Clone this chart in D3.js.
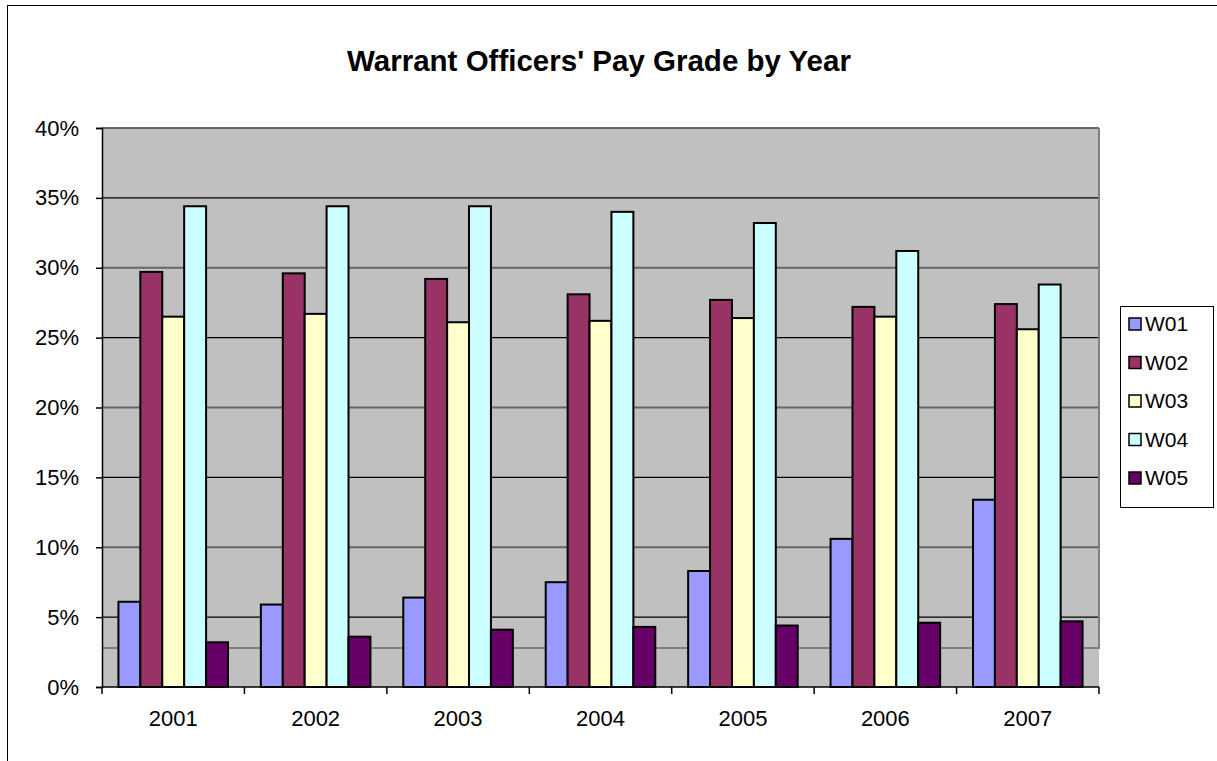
<!DOCTYPE html>
<html>
<head>
<meta charset="utf-8">
<script src="https://cdn.jsdelivr.net/npm/d3@7"></script>
<style>
  body { margin: 0; background: #fff; }
  text { font-family: Arial, "Liberation Sans", sans-serif; }
</style>
</head>
<body>
<svg id="chart" width="1217" height="761"></svg>
<script>
// years along the x axis
var years = ["2001", "2002", "2003", "2004", "2005", "2006", "2007"];
// pay grades (series)
var grades = ["W01", "W02", "W03", "W04", "W05"];
// share of warrant officers per grade, percent
var w01 = [6.1, 5.9, 6.4, 7.5, 8.3, 10.6, 13.4];
var w02 = [29.7, 29.6, 29.2, 28.1, 27.7, 27.2, 27.4];
var w03 = [26.5, 26.7, 26.1, 26.2, 26.4, 26.5, 25.6];
var w04 = [34.4, 34.4, 34.4, 34.0, 33.2, 31.2, 28.8];
var w05 = [3.2, 3.6, 4.1, 4.3, 4.4, 4.6, 4.7];
var yTicks = [0, 5, 10, 15, 20, 25, 30, 35, 40];
var colors = ["#9999FF", "#993366", "#FFFFCC", "#CCFFFF", "#660066"];

var seriesVals = [w01, w02, w03, w04, w05];
var svg = d3.select("#chart");

// outer chart frame (right/bottom edges fall outside the picture)
svg.append("rect")
    .attr("x", 7.5).attr("y", 5.5)
    .attr("width", 1300).attr("height", 900)
    .attr("fill", "#fff")
    .attr("stroke", "#000")
    .attr("stroke-width", 1);

var pLeft = 102, pRight = 1099, pTop = 128, pBottom = 687;

var x = d3.scaleBand().domain(years).range([pLeft, pRight]);
var cat = x.bandwidth();
var barW = cat / 6.5;
var x1 = d3.scaleBand().domain(grades)
    .range([(cat - barW * 5) / 2, (cat + barW * 5) / 2]);
var y = d3.scaleLinear().domain([0, 40]).range([pBottom, pTop]);

// plot area
svg.append("rect")
    .attr("x", pLeft).attr("y", pTop)
    .attr("width", pRight - pLeft).attr("height", pBottom - pTop)
    .attr("fill", "#C0C0C0");

// gridlines
svg.append("g").selectAll("line")
    .data(yTicks.filter(function (d) { return d > 0; }))
    .enter().append("line")
    .attr("x1", pLeft).attr("x2", pRight)
    .attr("y1", function (d) { return y(d); })
    .attr("y2", function (d) { return y(d); })
    .attr("stroke", function (d) { return d % 10 == 0 ? "#666" : "#000"; })
    .attr("stroke-width", function (d) { return d % 10 == 0 ? 2 : 1.2; });

// ghost border of the plot area (as in the original picture)
svg.append("path")
    .attr("d", "M" + pLeft + "," + (pBottom - 39) + "H" + pRight + "V" + pTop)
    .attr("fill", "none")
    .attr("stroke", "#808080")
    .attr("stroke-width", 2);

// bars
var groups = svg.append("g").selectAll("g")
    .data(years)
    .enter().append("g")
    .attr("transform", function (d) { return "translate(" + x(d) + ",0)"; });

groups.selectAll("rect")
    .data(function (d, i) {
        return grades.map(function (g, j) {
            return {grade: g, value: seriesVals[j][i], color: colors[j]};
        });
    })
    .enter().append("rect")
    .attr("x", function (d) { return x1(d.grade); })
    .attr("width", x1.bandwidth())
    .attr("y", function (d) { return y(d.value); })
    .attr("height", function (d) { return pBottom - y(d.value); })
    .attr("fill", function (d) { return d.color; })
    .attr("stroke", "#000")
    .attr("stroke-width", 2);

// y axis
var yAxis = svg.append("g")
    .attr("transform", "translate(" + pLeft + ",0)")
    .call(d3.axisLeft(y).tickValues(yTicks).tickSize(6).tickPadding(17)
        .tickFormat(function (d) { return d + "%"; }));
yAxis.select(".domain").attr("stroke", "#000").attr("stroke-width", 1.5);
yAxis.selectAll(".tick line").attr("stroke", "#000").attr("stroke-width", 1.5);
yAxis.selectAll("text").attr("font-size", 22).attr("fill", "#000")
    .attr("font-family", "Arial, 'Liberation Sans', sans-serif");

// x axis: ticks at category boundaries, labels centred
var xg = svg.append("g");
xg.append("line")
    .attr("x1", pLeft).attr("x2", pRight)
    .attr("y1", pBottom).attr("y2", pBottom)
    .attr("stroke", "#000").attr("stroke-width", 1.5);
xg.selectAll(".xtick")
    .data(years.concat(["end"]))
    .enter().append("line")
    .attr("class", "xtick")
    .attr("x1", function (d, i) { return pLeft + i * cat; })
    .attr("x2", function (d, i) { return pLeft + i * cat; })
    .attr("y1", pBottom).attr("y2", pBottom + 7)
    .attr("stroke", "#000").attr("stroke-width", 1.5);
xg.selectAll(".xlabel")
    .data(years)
    .enter().append("text")
    .attr("class", "xlabel")
    .attr("x", function (d) { return x(d) + cat / 2; })
    .attr("y", 726)
    .attr("text-anchor", "middle")
    .attr("font-size", 22)
    .text(function (d) { return d; });

// title
svg.append("text")
    .attr("x", 599).attr("y", 71)
    .attr("text-anchor", "middle")
    .attr("font-size", 29.5)
    .attr("font-weight", "bold")
    .text("Warrant Officers' Pay Grade by Year");

// legend
var lg = svg.append("g");
lg.append("rect")
    .attr("x", 1120.5).attr("y", 306.5)
    .attr("width", 93).attr("height", 201)
    .attr("fill", "#fff").attr("stroke", "#000").attr("stroke-width", 1);
var items = lg.selectAll(".item")
    .data(grades)
    .enter().append("g")
    .attr("class", "item")
    .attr("transform", function (d, i) { return "translate(1129," + (318 + i * 38.5) + ")"; });
items.append("rect")
    .attr("x", 0).attr("y", 0)
    .attr("width", 12).attr("height", 12)
    .attr("fill", function (d, i) { return colors[i]; })
    .attr("stroke", "#000").attr("stroke-width", 1.5);
items.append("text")
    .attr("x", 16).attr("y", 13)
    .attr("font-size", 21)
    .text(function (d) { return d; });
</script>
</body>
</html>
